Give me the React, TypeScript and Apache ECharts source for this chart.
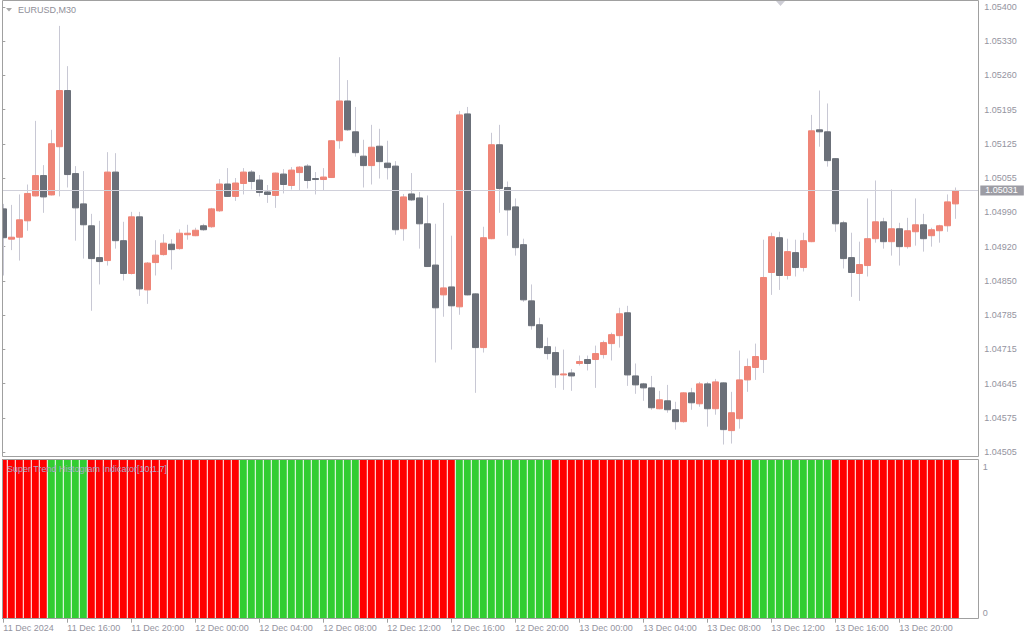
import React, { useEffect, useRef } from "react";
import * as echarts from "echarts";

const FONT = "'Liberation Sans', Arial, sans-serif";

const symbolTitle = "EURUSD,M30";
const indicatorTitle = "Super Trend Histogram Indicator[10;1.7]";

// 30-minute bars, first bar 11 Dec 2024 12:00
const firstBarUtc = Date.UTC(2024, 11, 11, 12, 0);
const barMinutes = 30;

const opens = [
  1.04994, 1.04933, 1.04937, 1.0497, 1.0502, 1.05061, 1.05022, 1.05119, 1.05232, 1.05065,
  1.05004, 1.0496, 1.04896, 1.0489, 1.05068, 1.0493, 1.04864, 1.04978, 1.04831, 1.04886,
  1.04902, 1.04923, 1.04914, 1.04942, 1.0494, 1.0496, 1.04958, 1.0499, 1.05044, 1.05019,
  1.05045, 1.05068, 1.05052, 1.05028, 1.05021, 1.05064, 1.05041, 1.05067, 1.0508, 1.05055,
  1.05053, 1.05057, 1.05131, 1.05211, 1.05149, 1.051, 1.05081, 1.0512, 1.05086, 1.0508,
  1.04954, 1.05024, 1.05016, 1.04964, 1.04881, 1.04821, 1.04837, 1.04797, 1.05185, 1.04823,
  1.04715, 1.04934, 1.05123, 1.05037, 1.04998, 1.04922, 1.04809, 1.04761, 1.04717, 1.04705,
  1.0466, 1.04664, 1.04683, 1.04691, 1.04691, 1.04701, 1.04723, 1.04739, 1.04785, 1.04658,
  1.04642, 1.04634, 1.04592, 1.04608, 1.0459, 1.04566, 1.04624, 1.04602, 1.04642, 1.04592,
  1.04644, 1.04548, 1.04572, 1.0465, 1.04675, 1.04691, 1.04866, 1.04936, 1.0486, 1.04906,
  1.04876, 1.04928, 1.05153, 1.05149, 1.05095, 1.04966, 1.04896, 1.04864, 1.0488, 1.04934,
  1.04968, 1.04928, 1.04954, 1.04918, 1.04948, 1.04962, 1.0494, 1.0495, 1.0496, 1.05004,
];
const highs = [
  1.05004, 1.05002, 1.05023, 1.05043, 1.05171, 1.05082, 1.05153, 1.05362, 1.05281, 1.0508,
  1.0507, 1.04984, 1.0497, 1.05108, 1.05106, 1.04968, 1.04988, 1.04988, 1.04887, 1.04931,
  1.04943, 1.04933, 1.04953, 1.04962, 1.04956, 1.04964, 1.04996, 1.05054, 1.05076, 1.05056,
  1.05076, 1.05072, 1.05062, 1.05042, 1.05067, 1.05074, 1.05078, 1.0508, 1.05084, 1.05068,
  1.05076, 1.05132, 1.05299, 1.05253, 1.05199, 1.05133, 1.05163, 1.05155, 1.05131, 1.0509,
  1.05024, 1.05066, 1.05028, 1.05021, 1.04964, 1.05006, 1.0494, 1.05191, 1.05199, 1.04824,
  1.04958, 1.05147, 1.05163, 1.05049, 1.05015, 1.04934, 1.04842, 1.04775, 1.04735, 1.04717,
  1.04711, 1.04672, 1.04699, 1.04699, 1.04719, 1.04729, 1.04745, 1.04795, 1.04799, 1.04683,
  1.04644, 1.04658, 1.04628, 1.0464, 1.04606, 1.04625, 1.04634, 1.04646, 1.04646, 1.04652,
  1.04645, 1.04626, 1.04709, 1.04693, 1.04723, 1.04932, 1.04946, 1.04948, 1.04934, 1.04932,
  1.04946, 1.05183, 1.05232, 1.05206, 1.05096, 1.0497, 1.04946, 1.04928, 1.05015, 1.05051,
  1.04976, 1.05033, 1.04966, 1.04976, 1.05015, 1.04984, 1.04956, 1.04962, 1.05023, 1.05037,
];
const lows = [
  1.0486, 1.04911, 1.0489, 1.0495, 1.05019, 1.04986, 1.05021, 1.05019, 1.05037, 1.0493,
  1.04894, 1.04789, 1.04842, 1.0488, 1.04914, 1.0485, 1.04862, 1.04819, 1.04803, 1.0486,
  1.049, 1.04872, 1.04912, 1.04932, 1.04939, 1.0495, 1.04956, 1.04988, 1.05018, 1.0501,
  1.05023, 1.05033, 1.05019, 1.05006, 1.04996, 1.05025, 1.05033, 1.05031, 1.05035, 1.05023,
  1.05031, 1.05056, 1.05115, 1.05151, 1.05099, 1.05037, 1.05043, 1.05055, 1.05053, 1.04942,
  1.0493, 1.0501, 1.04914, 1.04877, 1.04685, 1.04777, 1.04711, 1.04781, 1.0482, 1.04624,
  1.04705, 1.04933, 1.04986, 1.0494, 1.049, 1.04807, 1.04751, 1.04713, 1.04691, 1.04634,
  1.0463, 1.04628, 1.04679, 1.04669, 1.04634, 1.04693, 1.04689, 1.04715, 1.04638, 1.04622,
  1.04608, 1.0459, 1.04591, 1.04584, 1.0455, 1.04564, 1.0459, 1.04596, 1.04556, 1.0458,
  1.0452, 1.04522, 1.04552, 1.04626, 1.0465, 1.04664, 1.04821, 1.04831, 1.04852, 1.04858,
  1.04868, 1.04927, 1.05119, 1.05079, 1.04948, 1.04874, 1.04817, 1.04809, 1.04858, 1.04926,
  1.04914, 1.049, 1.0488, 1.04914, 1.0492, 1.04908, 1.04918, 1.04926, 1.04948, 1.04974,
];
const closes = [
  1.04936, 1.04937, 1.04972, 1.05025, 1.05061, 1.05018, 1.05125, 1.05232, 1.05063, 1.04996,
  1.04962, 1.04894, 1.04888, 1.05068, 1.0493, 1.04864, 1.04978, 1.04833, 1.04885, 1.04901,
  1.04925, 1.04912, 1.04945, 1.04945, 1.04951, 1.04952, 1.04994, 1.05044, 1.05019, 1.05046,
  1.05068, 1.05049, 1.05027, 1.05023, 1.05066, 1.05043, 1.05072, 1.05078, 1.05051, 1.05053,
  1.05058, 1.05131, 1.05211, 1.05153, 1.05107, 1.05081, 1.05118, 1.05089, 1.05077, 1.04952,
  1.05018, 1.05012, 1.04964, 1.04878, 1.04795, 1.04835, 1.04799, 1.05183, 1.04821, 1.04715,
  1.04936, 1.05123, 1.05035, 1.04992, 1.04916, 1.04811, 1.04759, 1.04715, 1.04703, 1.0466,
  1.04662, 1.04658, 1.04687, 1.04683, 1.04703, 1.04725, 1.04741, 1.04783, 1.0466, 1.0464,
  1.04634, 1.04594, 1.0461, 1.0459, 1.04566, 1.04624, 1.04604, 1.04642, 1.04592, 1.04646,
  1.0455, 1.04584, 1.0465, 1.04677, 1.04697, 1.04856, 1.04938, 1.0486, 1.04908, 1.04876,
  1.0493, 1.05151, 1.05149, 1.05091, 1.04964, 1.04894, 1.04866, 1.04882, 1.04934, 1.04968,
  1.04928, 1.04954, 1.04918, 1.0495, 1.04962, 1.04934, 1.04952, 1.0496, 1.05008, 1.05031,
];

// Super Trend histogram: 1 = up (green), -1 = down (red); the bar height is always 1
const trend = [
  -1, -1, -1, -1, -1, -1, 1, 1, 1, 1,
  1, -1, -1, -1, -1, -1, -1, -1, -1, -1,
  -1, -1, -1, -1, -1, -1, -1, -1, -1, -1,
  1, 1, 1, 1, 1, 1, 1, 1, 1, 1,
  1, 1, 1, 1, 1, -1, -1, -1, -1, -1,
  -1, -1, -1, -1, -1, -1, -1, 1, 1, 1,
  1, 1, 1, 1, 1, 1, 1, 1, 1, -1,
  -1, -1, -1, -1, -1, -1, -1, -1, -1, -1,
  -1, -1, -1, -1, -1, -1, -1, -1, -1, -1,
  -1, -1, -1, -1, 1, 1, 1, 1, 1, 1,
  1, 1, 1, 1, -1, -1, -1, -1, -1, -1,
  -1, -1, -1, -1, -1, -1, -1, -1, -1, -1,
];

const tickTimes = [
  "2024.12.11 12:00", "2024.12.11 16:00", "2024.12.11 20:00", "2024.12.12 00:00",
  "2024.12.12 04:00", "2024.12.12 08:00", "2024.12.12 12:00", "2024.12.12 16:00",
  "2024.12.12 20:00", "2024.12.13 00:00", "2024.12.13 04:00", "2024.12.13 08:00",
  "2024.12.13 12:00", "2024.12.13 16:00", "2024.12.13 20:00",
];
const tickLabels = [
  "11 Dec 2024", "11 Dec 16:00", "11 Dec 20:00", "12 Dec 00:00",
  "12 Dec 04:00", "12 Dec 08:00", "12 Dec 12:00", "12 Dec 16:00",
  "12 Dec 20:00", "13 Dec 00:00", "13 Dec 04:00", "13 Dec 08:00",
  "13 Dec 12:00", "13 Dec 16:00", "13 Dec 20:00",
];

// right price scale labels, bottom to top
const priceTicks = [
  "1.04505", "1.04575", "1.04645", "1.04715", "1.04785", "1.04850", "1.04920",
  "1.04990", "1.05055", "1.05125", "1.05195", "1.05260", "1.05330", "1.05400",
];
const indicatorTicks = ["0", "1"];

const priceMin = 1.04505;
const priceMax = 1.054;
const bidPrice = 1.05031;

const BULL = "#ef8577";
const BEAR = "#6b7079";
const WICK = "#c8c8d4";
const UP = "#32cd32";
const DOWN = "#ff0000";
const FRAME = "#a0a0a0";
const TEXT = "#9494a0";

function pad(n: number) {
  return String(n).padStart(2, "0");
}

const categories = opens.map((_, i) => {
  const d = new Date(firstBarUtc + i * barMinutes * 60000);
  return `${d.getUTCFullYear()}.${pad(d.getUTCMonth() + 1)}.${pad(d.getUTCDate())} ${pad(
    d.getUTCHours()
  )}:${pad(d.getUTCMinutes())}`;
});

const tickLabelOf: Record<string, string> = {};
tickTimes.forEach((t, i) => {
  tickLabelOf[t] = tickLabels[i];
});

function buildOption() {
  const wickData = opens.map((o, i) => [o, closes[i], lows[i], highs[i]]);
  const bodyData = opens.map((o, i) => {
    const c = closes[i];
    return [o, c, Math.min(o, c), Math.max(o, c)];
  });
  const histData = trend.map((t) => ({
    value: Math.abs(t),
    itemStyle: { color: t > 0 ? UP : DOWN },
  }));
  const isTick = (_i: number, v: string) => v in tickLabelOf;

  return {
    animation: false,
    backgroundColor: "#ffffff",
    textStyle: { fontFamily: FONT },
    grid: [
      // 0: candles
      { left: -0.7, width: 960, top: 7, height: 445, outerBoundsMode: "none" },
      // 1: full-width price frame (bid line)
      { left: 2.3, width: 976, top: 7, height: 445, outerBoundsMode: "none" },
      // 2: histogram
      { left: -0.7, width: 960, top: 459.3, height: 159.4, outerBoundsMode: "none" },
      // 3: indicator scale labels
      { left: 2.3, width: 976, top: 466.7, height: 146, outerBoundsMode: "none" },
      // 4: price scale labels
      { left: 2.3, width: 976, top: 7, height: 445, outerBoundsMode: "none" },
    ],
    xAxis: [
      { type: "category", gridIndex: 0, data: categories, boundaryGap: true, show: false },
      { type: "value", gridIndex: 1, min: 0, max: 1, show: false },
      {
        type: "category",
        gridIndex: 2,
        data: categories,
        boundaryGap: true,
        position: "bottom",
        axisLine: { show: false },
        axisTick: {
          show: true,
          alignWithLabel: true,
          interval: isTick,
          length: 4,
          lineStyle: { color: FRAME, width: 1 },
        },
        axisLabel: {
          interval: isTick,
          formatter: (v: string) => tickLabelOf[v] || "",
          align: "left",
          margin: 5,
          color: TEXT,
          fontSize: 9,
          fontFamily: FONT,
        },
        splitLine: { show: false },
      },
      { type: "value", gridIndex: 3, min: 0, max: 1, show: false },
      { type: "value", gridIndex: 4, min: 0, max: 1, show: false },
    ],
    yAxis: [
      { type: "value", gridIndex: 0, min: priceMin, max: priceMax, show: false },
      { type: "value", gridIndex: 1, min: priceMin, max: priceMax, show: false },
      { type: "value", gridIndex: 2, min: 0, max: 1, show: false },
      {
        type: "category",
        gridIndex: 3,
        data: indicatorTicks,
        position: "right",
        boundaryGap: false,
        axisLine: { show: false },
        axisTick: { show: false },
        axisLabel: { interval: 0, margin: 4.4, color: TEXT, fontSize: 9, fontFamily: FONT },
        splitLine: { show: false },
      },
      {
        type: "category",
        gridIndex: 4,
        data: priceTicks,
        position: "right",
        boundaryGap: false,
        axisLine: { show: false },
        axisTick: { show: true, length: 3, lineStyle: { color: FRAME } },
        axisLabel: { interval: 0, margin: 6, color: TEXT, fontSize: 9, fontFamily: FONT },
        splitLine: { show: false },
      },
    ],
    series: [
      {
        type: "line",
        xAxisIndex: 1,
        yAxisIndex: 1,
        data: [],
        silent: true,
        markLine: {
          silent: true,
          precision: 5,
          symbol: ["none", "none"],
          lineStyle: { color: "#d0d0da", width: 1, type: "solid" },
          emphasis: { disabled: true },
          label: {
            show: true,
            position: "end",
            distance: 2,
            formatter: bidPrice.toFixed(5),
            color: "#ffffff",
            backgroundColor: "#9c9ca4",
            padding: [1, 6, 0, 5],
            fontSize: 9,
            lineHeight: 9,
            fontFamily: FONT,
          },
          data: [{ yAxis: bidPrice }],
        },
      },
      {
        type: "candlestick",
        xAxisIndex: 0,
        yAxisIndex: 0,
        data: wickData,
        barWidth: 0.01,
        silent: true,
        itemStyle: {
          color: WICK,
          color0: WICK,
          borderColor: WICK,
          borderColor0: WICK,
          borderColorDoji: WICK,
          borderWidth: 1,
        },
      },
      {
        type: "candlestick",
        xAxisIndex: 0,
        yAxisIndex: 0,
        data: bodyData,
        barWidth: 6,
        silent: true,
        itemStyle: {
          color: BULL,
          color0: BEAR,
          borderColor: BULL,
          borderColor0: BEAR,
          borderWidth: 1,
        },
      },
      {
        type: "bar",
        xAxisIndex: 2,
        yAxisIndex: 2,
        data: histData,
        barWidth: 7,
        silent: true,
      },
    ],
    graphic: [
      { type: "rect", z: 90, shape: { x: 0, y: 0, width: 2, height: 640 }, style: { fill: "#ffffff" } },
      {
        type: "rect",
        z: 100,
        shape: { x: 2.5, y: 0.5, width: 976, height: 456 },
        style: { fill: "none", stroke: FRAME, lineWidth: 1 },
      },
      {
        type: "rect",
        z: 100,
        shape: { x: 2.5, y: 459.5, width: 976, height: 159 },
        style: { fill: "none", stroke: FRAME, lineWidth: 1 },
      },
      {
        type: "polygon",
        z: 100,
        shape: { points: [[6, 8], [12, 8], [9, 11.5]] },
        style: { fill: "#a8a8a8" },
      },
      {
        type: "polygon",
        z: 100,
        shape: { points: [[776, 1], [785, 1], [780.5, 6]] },
        style: { fill: "#cdcdd5" },
      },
      {
        type: "text",
        z: 100,
        x: 18,
        y: 10,
        style: {
          text: symbolTitle,
          fill: "#8f8f99",
          fontSize: 9,
          fontFamily: FONT,
          verticalAlign: "middle",
        },
      },
      {
        type: "text",
        z: 100,
        x: 7,
        y: 469.3,
        style: {
          text: indicatorTitle,
          fill: "#aaa8c8",
          fontSize: 9,
          fontFamily: FONT,
          verticalAlign: "middle",
        },
      },
    ],
  };
}

export default function App() {
  const ref = useRef<HTMLDivElement>(null);
  useEffect(() => {
    if (!ref.current) return;
    const chart = echarts.init(ref.current, null, { renderer: "svg" });
    chart.setOption(buildOption() as any);
    return () => chart.dispose();
  }, []);
  return (
    <div
      ref={ref}
      style={{ position: "absolute", left: 0, top: 0, width: 1024, height: 640 }}
    />
  );
}
